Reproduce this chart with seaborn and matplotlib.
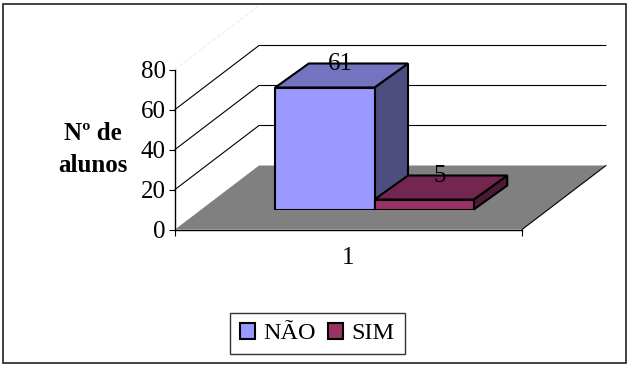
import matplotlib
matplotlib.use("Agg")
import matplotlib.pyplot as plt
import pandas as pd
import seaborn as sns
from matplotlib.patches import Polygon, Rectangle
from matplotlib.transforms import IdentityTransform

grupo = ["1", "1"]
respostas = ["NÃO", "SIM"]
alunos = [61, 5]
y_ticks = [0, 20, 40, 60, 80]
grid_ticks = [20, 40, 60]

cores = {"NÃO": "#9999FF", "SIM": "#993366"}
cores_topo = {"NÃO": "#7373BF", "SIM": "#732650"}
cores_lado = {"NÃO": "#4D4D80", "SIM": "#4D1A33"}

W, H = 629, 365
# profundidade em pixels: piso inteiro, deslocamento do plano das barras, barra
PISO = (84, 64)
FRENTE = (26, 20)
BARRA = (33.5, 24)

sns.set_theme(style="white")
plt.rcParams["font.family"] = ["Liberation Serif", "DejaVu Serif"]
plt.rcParams.update({"font.size": 18, "text.color": "black", "axes.labelcolor": "black",
                     "xtick.color": "black", "ytick.color": "black"})

df = pd.DataFrame({"grupo": grupo, "resposta": respostas, "alunos": alunos})

fig = plt.figure(figsize=(W / 100, H / 100), dpi=100, facecolor="white")
fig.add_artist(Rectangle((3.5 / W, 2.5 / H), 622.5 / W, 358.5 / H, transform=fig.transFigure,
                         fill=False, edgecolor="#222222", linewidth=1.2))

ax = fig.add_axes([175 / W, 1 - 229.5 / H, 347 / W, 160 / H])
frente = fig.add_axes([(175 + FRENTE[0]) / W, 1 - (229.5 - FRENTE[1]) / H, 347 / W, 160 / H])
frente.patch.set_alpha(0)
ax.patch.set_alpha(0)

for a in (ax, frente):
    a.set_xlim(-0.5, 0.5)
    a.set_ylim(0, 80)

pix = IdentityTransform()


def em_pixels(a, x, y):
    return a.transData.transform((x, y))


# piso e paredes
p0 = em_pixels(ax, -0.5, 0)
p1 = em_pixels(ax, 0.5, 0)
ax.add_patch(Polygon([p0, p1, p1 + PISO, p0 + PISO], closed=True, transform=pix,
                     facecolor="#808080", edgecolor="none", clip_on=False, zorder=1))
ax.plot(*zip(p1, p1 + PISO), transform=pix, color="black", lw=0.8, clip_on=False, zorder=2)

for v in grid_ticks:
    a0 = em_pixels(ax, -0.5, v)
    a1 = em_pixels(ax, 0.5, v)
    ax.plot(*zip(a0, a0 + PISO, a1 + PISO), transform=pix, color="black", lw=0.8,
            clip_on=False, zorder=2)
topo = em_pixels(ax, -0.5, y_ticks[-1])
ax.plot(*zip(topo, topo + PISO), transform=pix, color="#eeeeee", lw=0.8, ls="--",
        clip_on=False, zorder=2)

ax.set_yticks(y_ticks)
ax.set_xticks([0], labels=grupo[:1])
ax.set_xticks([-0.5, 0.5], minor=True)
ax.tick_params(axis="y", length=4.5, width=0.8, left=True, pad=2, labelsize=18)
ax.tick_params(axis="x", which="major", length=0, pad=12.5, labelsize=18)
ax.tick_params(axis="x", which="minor", length=4.5, width=0.8, bottom=True)
sns.despine(ax=ax)
for s in ("left", "bottom"):
    ax.spines[s].set_color("black")
    ax.spines[s].set_linewidth(1)
ax.set_xlabel("")
ax.set_ylabel("Nº de\nalunos", rotation=0, fontweight="bold", fontsize=18,
              ha="center", va="center", linespacing=1.5)
ax.yaxis.set_label_coords(-82 / 347, 0.5)

# barras (face da frente)
sns.barplot(data=df, x="grupo", y="alunos", hue="resposta", palette=cores,
            hue_order=respostas, width=0.572, gap=0, edgecolor="black", linewidth=1.5,
            saturation=1, ax=frente)
handles, labels = frente.get_legend_handles_labels()
frente.get_legend().remove()
frente.set_xlim(-0.5, 0.5)
frente.set_ylim(0, 80)
frente.axis("off")

# faces de topo e lateral, rótulos de valor
for i, (cont, nome, valor) in enumerate(zip(frente.containers, respostas, alunos)):
    b = cont[0]
    b.set_zorder(3 + 3 * i + 2)
    e_base = em_pixels(frente, b.get_x(), 0)
    d_base = em_pixels(frente, b.get_x() + b.get_width(), 0)
    e_topo = em_pixels(frente, b.get_x(), valor)
    d_topo = em_pixels(frente, b.get_x() + b.get_width(), valor)
    frente.add_patch(Polygon([d_base, d_topo, d_topo + BARRA, d_base + BARRA], closed=True,
                             transform=pix, facecolor=cores_lado[nome], edgecolor="black",
                             linewidth=1.5, clip_on=False, zorder=3 + 3 * i))
    frente.add_patch(Polygon([e_topo, d_topo, d_topo + BARRA, e_topo + BARRA], closed=True,
                             transform=pix, facecolor=cores_topo[nome], edgecolor="black",
                             linewidth=1.5, clip_on=False, zorder=3 + 3 * i))
    cx, cy = (e_topo + d_topo) / 2 + (BARRA[0] / 2, BARRA[1])
    frente.text(cx - 1, cy - 1, str(valor), transform=pix, ha="center", va="center",
                fontsize=18, zorder=20)

fig.legend(handles, labels, loc="center", bbox_to_anchor=(317.5 / W, 1 - 333.5 / H),
           ncols=2, frameon=True, fancybox=False, edgecolor="#333333", framealpha=1,
           fontsize=17.5, handlelength=0.62, handleheight=0.62, handletextpad=0.35,
           columnspacing=0.5, borderpad=0.4, borderaxespad=0, labelcolor="black")

fig.savefig("out.png", dpi=100, facecolor="white")
